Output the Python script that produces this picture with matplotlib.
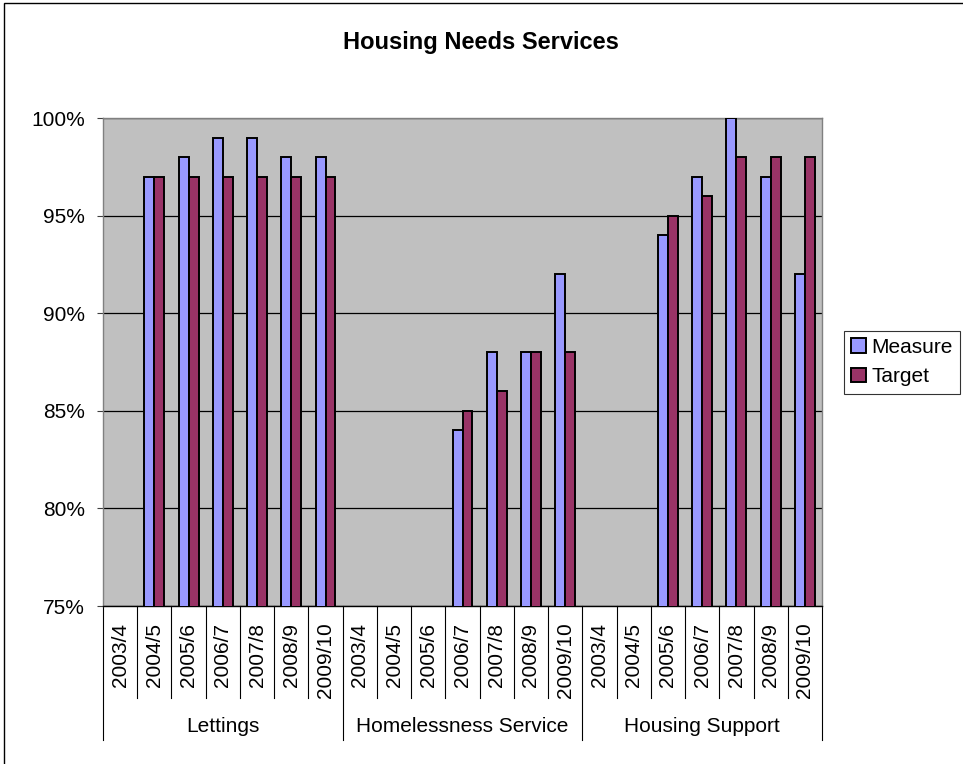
import matplotlib.pyplot as plt
import matplotlib.patches as patches
from matplotlib.transforms import blended_transform_factory
from matplotlib.ticker import PercentFormatter
import numpy as np

plt.rcParams['font.family'] = ['Liberation Sans', 'DejaVu Sans']

# -------------------------- Data --------------------------
years = ['2003/4', '2004/5', '2005/6', '2006/7', '2007/8', '2008/9', '2009/10']
groups = ['Lettings', 'Homelessness Service', 'Housing Support']

measure_lettings = [np.nan, 97, 98, 99, 99, 98, 98]
target_lettings = [np.nan, 97, 97, 97, 97, 97, 97]
measure_homeless = [np.nan, np.nan, np.nan, 84, 88, 88, 92]
target_homeless = [np.nan, np.nan, np.nan, 85, 86, 88, 88]
measure_support = [np.nan, np.nan, 94, 97, 100, 97, 92]
target_support = [np.nan, np.nan, 95, 96, 98, 98, 98]

measure = measure_lettings + measure_homeless + measure_support
target = target_lettings + target_homeless + target_support
cat_labels = years * len(groups)

# -------------------------- Figure --------------------------
fs = 15
fig = plt.figure(figsize=(9.63, 7.64), dpi=100)
ax = fig.add_axes([103 / 963, 1 - 606 / 764, 719 / 963, 488 / 764])
ax.set_facecolor('#C0C0C0')

n = len(cat_labels)
x = np.arange(n)
bw = 0.29
ax.bar(x - bw / 2, measure, bw, color='#9999FF', edgecolor='black', linewidth=1.4,
       label='Measure', zorder=3)
ax.bar(x + bw / 2, target, bw, color='#993366', edgecolor='black', linewidth=1.4,
       label='Target', zorder=3)

ax.set_xlim(-0.5, n - 0.5)
ax.set_ylim(75, 100)
ax.set_yticks([75, 80, 85, 90, 95, 100])
ax.yaxis.set_major_formatter(PercentFormatter(decimals=0))
ax.tick_params(axis='y', labelsize=fs, length=4.3, width=0.8, color='#404040', pad=8.5)
ax.yaxis.grid(True, color='black', linewidth=0.9, zorder=1)
ax.set_axisbelow(True)

ax.set_xticks(x)
ax.set_xticklabels(cat_labels, rotation=90, fontsize=fs)
ax.tick_params(axis='x', length=0, pad=12)

for side in ['top', 'right', 'left']:
    ax.spines[side].set_color('#808080')
    ax.spines[side].set_linewidth(1.0)
ax.spines['bottom'].set_color('black')
ax.spines['bottom'].set_linewidth(1.0)

# category separators and group separators below axis
trans = blended_transform_factory(ax.transData, ax.transAxes)
short_y = -(698 - 606) / 488
long_y = -(740 - 606) / 488
for b in np.arange(-0.5, n, 1.0):
    is_group = abs(((b + 0.5) % len(years))) < 1e-9
    ax.plot([b, b], [0, long_y if is_group else short_y], color='black',
            linewidth=0.8, transform=trans, clip_on=False)

for gi, g in enumerate(groups):
    cx = gi * len(years) + (len(years) - 1) / 2
    ax.text(cx, -(727 - 606) / 488, g, transform=trans, ha='center', va='center',
            fontsize=fs)

# title
fig.text(481 / 963, 1 - 42 / 764, 'Housing Needs Services', ha='center', va='center',
         fontsize=17, fontweight='bold')

# legend
leg = ax.legend(loc='center left', bbox_to_anchor=(844 / 963, 1 - 362 / 764),
                bbox_transform=fig.transFigure, borderaxespad=0, fontsize=fs,
                frameon=True, fancybox=False, handlelength=0.72, handleheight=0.7,
                handletextpad=0.25, labelspacing=0.5, borderpad=0.35)
leg.get_frame().set_edgecolor('black')
leg.get_frame().set_linewidth(0.8)
for h in leg.legend_handles:
    h.set_linewidth(1.4)

# outer chart border (only left/top fall inside the image)
fig.patches.append(patches.Rectangle((4 / 963, -0.1), 1.2, 1 - 3 / 764 + 0.1,
                                     transform=fig.transFigure, fill=False,
                                     edgecolor='black', linewidth=1.0))

fig.savefig('out.png', dpi=100)
